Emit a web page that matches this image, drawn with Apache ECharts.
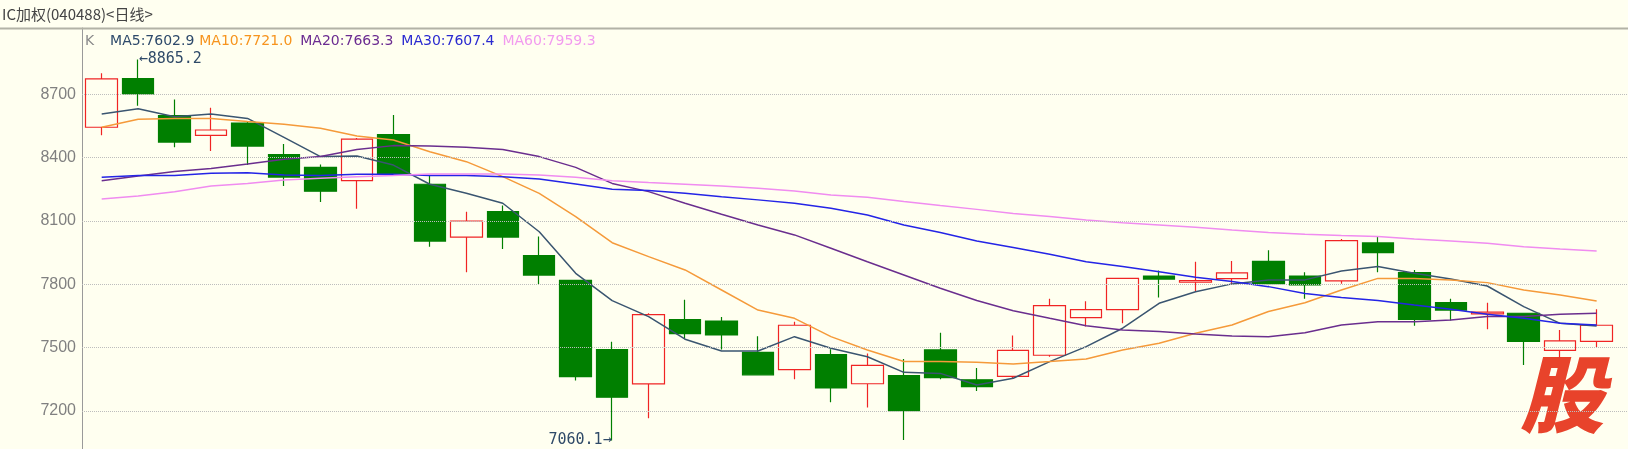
<!DOCTYPE html>
<html><head><meta charset="utf-8">
<script src="https://cdn.jsdelivr.net/npm/echarts@6/dist/echarts.min.js"></script>
<style>html,body{margin:0;padding:0;background:#FFFFF0;}#c{width:1628px;height:449px;}</style>
</head><body><div id="c"></div>
<script>
// ---- data ----
const titleText = 'IC加权(040488)<日线>';
const openV  = [8544,8774,8599,8506,8564,8414,8354,8291,8509,8274,8024,8144,7936,7819,7491,7328,7633,7626,7478,7396,7467,7329,7367,7489,7348,7364,7464,7642,7680,7839,7810,7827,7909,7839,7816,7996,7855,7713,7660,7663,7487,7530];
const closeV = [8773,8702,8474,8531,8455,8308,8241,8488,8321,8005,8100,8024,7844,7363,7265,7656,7566,7560,7371,7606,7309,7416,7202,7358,7315,7487,7699,7680,7828,7825,7818,7854,7803,7797,8007,7950,7634,7678,7668,7530,7532,7606];
const lowV   = [8506,8646,8449,8432,8365,8266,8190,8158,8315,7978,7857,7967,7800,7344,7060.1,7165,7540,7491,7368,7350,7241,7216,7063,7350,7295,7355,7457,7600,7615,7738,7768,7802,7795,7732,7803,7857,7604,7628,7587,7418,7453,7502];
const highV  = [8800,8865.2,8676,8637,8572,8465,8367,8493,8602,8315,8144,8173,8027,7822,7528,7663,7727,7645,7554,7623,7492,7472,7446,7571,7404,7558,7732,7720,7831,7865,7907,7911,7961,7857,8015,8026,7868,7732,7713,7664,7584,7682];
const ma5  = [8607,8632,8594,8607,8586,8496,8405,8408,8365,8274,8231,8184,8049,7852,7723,7647,7540,7484,7484,7552,7497,7457,7383,7378,7323,7355,7434,7505,7592,7710,7765,7802,7821,7821,7863,7884,7852,7825,7792,7694,7615,7603];
const ma10 = [8544,8582,8585,8585,8571,8558,8539,8503,8484,8428,8381,8310,8231,8121,7997,7931,7868,7773,7678,7639,7552,7489,7434,7434,7431,7423,7434,7446,7489,7521,7568,7607,7671,7713,7773,7828,7828,7820,7808,7773,7749,7721];
const ma20 = [8291,8313,8334,8349,8370,8392,8405,8439,8457,8455,8449,8439,8405,8354,8278,8239,8184,8132,8081,8034,7971,7907,7844,7781,7723,7675,7639,7604,7584,7576,7565,7555,7552,7571,7607,7623,7623,7631,7647,7647,7658,7663];
const ma30 = [8307,8315,8315,8326,8329,8318,8315,8321,8321,8316,8315,8310,8299,8275,8250,8244,8231,8215,8200,8184,8160,8128,8081,8045,8005,7974,7942,7907,7884,7860,7833,7813,7789,7757,7737,7723,7702,7682,7658,7639,7615,7607];
const ma60 = [8204,8218,8239,8266,8278,8294,8302,8310,8316,8323,8323,8323,8318,8307,8291,8282,8274,8266,8255,8242,8223,8212,8192,8173,8155,8136,8121,8105,8092,8081,8070,8057,8045,8037,8031,8026,8015,8005,7994,7978,7967,7958];
const yTicks = [7200,7500,7800,8100,8400,8700];
const legendLabels = ['K','MA5:7602.9','MA10:7721.0','MA20:7663.3','MA30:7607.4','MA60:7959.3'];
const watermark = '股';

// ---- styles ----
const maColors = ['#3A5570','#F59A3A','#6A2E8E','#2424E6','#F08CF0'];
const legendColors = ['#8A8A8A','#2E4A6B','#F7941D','#6B2C91','#2A2AD0','#F29BEF'];
const bg = '#FFFFF0';

const candleData = openV.map((o, i) => [i, o, closeV[i], lowV[i], highV[i]]);
const hiIdx = highV.indexOf(Math.max(...highV));
const loIdx = lowV.indexOf(Math.min(...lowV));
const toXY = arr => arr.map((v, i) => [i, v]);

const richKeys = ['k','a','b','c','d','e'];
const rich = {};
richKeys.forEach((k, i) => {
  rich[k] = {color: legendColors[i], fontFamily: '"DejaVu Sans"', fontSize: 14, fontWeight: 'normal', lineHeight: 16,
             padding: i === 0 ? [0, 12, 0, 0] : (i === 1 ? [0, 1, 0, 0] : [0, 4, 0, 0])};
});
const legendText = legendLabels.map((t, i) => '{' + richKeys[i] + '|' + t + '}').join(' ');

const chart = echarts.init(document.getElementById('c'), null, {renderer: 'canvas'});
const maSeries = [ma5, ma10, ma20, ma30, ma60].map((arr, i) => ({
  type: 'line', data: toXY(arr), showSymbol: false, symbol: 'none', smooth: false, z: 4,
  lineStyle: {color: maColors[i], width: 1.5}, silent: true
}));

chart.setOption({
  backgroundColor: bg,
  animation: false,
  title: [
    {text: titleText, left: 2, top: 7, padding: 0,
     textStyle: {fontFamily: '"Noto Sans CJK SC"', fontSize: 15, fontWeight: 'normal', color: '#444'}},
    {text: legendText, left: 85, top: 33, padding: 0, textStyle: {rich: rich, fontSize: 14, fontWeight: 'normal'}}
  ],
  grid: {left: 82, right: 0, top: 28, bottom: -25.3, containLabel: false, outerBoundsMode: 'none'},
  xAxis: {type: 'value', min: -0.54, max: 41.86, show: false},
  yAxis: {
    type: 'value', min: 6900, max: 9014.2, interval: 300, scale: true,
    axisLine: {show: true, onZero: false, lineStyle: {color: '#9A9A9A', width: 1}},
    axisTick: {show: false}, splitLine: {show: false},
    axisLabel: {formatter: v => yTicks.includes(v) ? String(v) : '', color: '#808080',
                fontFamily: '"Liberation Sans"', fontSize: 16, margin: 6}
  },
  graphic: [
    {type: 'line', shape: {x1: 0, y1: 28.5, x2: 1628, y2: 28.5}, style: {stroke: '#B2B2A6', lineWidth: 2}, z: 10},
    {type: 'text', x: 1562, y: 394, z: 1,
     style: {text: watermark, font: 'italic 900 84px "Noto Sans CJK SC"', fill: '#E8432B',
             align: 'center', verticalAlign: 'middle'}}
  ],
  series: [
    {type: 'line', data: [], z: 1, silent: true,
     markLine: {silent: true, symbol: ['none','none'], label: {show: false},
                lineStyle: {type: 'dotted', color: '#BDBDBD', width: 1},
                data: yTicks.map(v => ({yAxis: v}))}},
    {type: 'candlestick', data: candleData, barWidth: 32, z: 3,
     itemStyle: {color: bg, color0: '#007F00', borderColor: '#F02424', borderColor0: '#007F00', borderWidth: 1.2},
     markPoint: {
       symbol: 'circle', symbolSize: 1, itemStyle: {color: 'rgba(0,0,0,0)'},
       label: {show: true, fontFamily: '"DejaVu Sans Mono"', fontSize: 15, color: '#2F4A68'},
       data: [
         {coord: [hiIdx, highV[hiIdx]], label: {position: 'right', distance: 0, offset: [0, 0], formatter: '←' + highV[hiIdx].toFixed(1)}},
         {coord: [loIdx, lowV[loIdx]], label: {position: 'left', distance: 0, offset: [0, 0], formatter: lowV[loIdx].toFixed(1) + '→'}}
       ]
     }},
    ...maSeries
  ]
});
</script></body></html>
